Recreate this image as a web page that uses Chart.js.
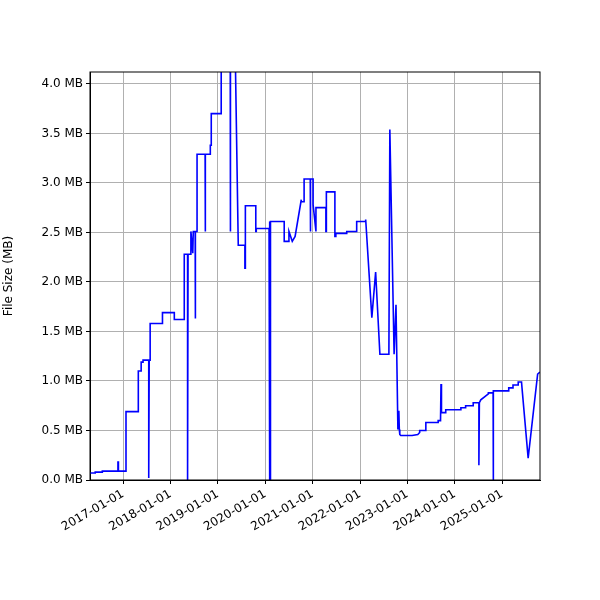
<!DOCTYPE html>
<html>
<head>
<script src="https://cdn.jsdelivr.net/npm/chart.js@4"></script>
<style>body{margin:0;background:#fff}</style>
</head>
<body>
<div style="width:600px;height:600px"><canvas id="c"></canvas></div>
<script>
// decimal years and file sizes (MB)
const years = [2016.30,2016.41,2016.41,2016.56,2016.56,2016.89,2016.89,2016.90,2016.90,2017.06,2017.06,2017.32,2017.32,2017.38,2017.38,2017.42,2017.42,2017.54,2017.54,2017.55,2017.57,2017.57,2017.83,2017.83,2018.08,2018.08,2018.29,2018.29,2018.36,2018.36,2018.37,2018.43,2018.43,2018.47,2018.48,2018.52,2018.52,2018.53,2018.56,2018.56,2018.73,2018.73,2018.74,2018.84,2018.84,2018.86,2018.86,2019.07,2019.07,2019.26,2019.26,2019.27,2019.36,2019.43,2019.43,2019.57,2019.57,2019.58,2019.58,2019.80,2019.80,2019.81,2019.81,2020.08,2020.08,2020.10,2020.10,2020.11,2020.11,2020.40,2020.40,2020.50,2020.50,2020.57,2020.57,2020.63,2020.63,2020.76,2020.76,2020.79,2020.82,2020.82,2020.95,2020.95,2020.96,2021.01,2021.01,2021.07,2021.07,2021.08,2021.28,2021.28,2021.29,2021.29,2021.47,2021.47,2021.49,2021.49,2021.72,2021.72,2021.93,2021.93,2022.12,2022.12,2022.25,2022.25,2022.33,2022.33,2022.42,2022.61,2022.63,2022.72,2022.72,2022.76,2022.77,2022.80,2022.82,2022.83,2022.84,2022.86,2023.10,2023.22,2023.22,2023.26,2023.26,2023.39,2023.39,2023.65,2023.65,2023.70,2023.71,2023.72,2023.75,2023.81,2023.81,2024.13,2024.13,2024.23,2024.23,2024.39,2024.39,2024.51,2024.51,2024.52,2024.55,2024.55,2024.71,2024.71,2024.73,2024.81,2024.81,2024.82,2025.14,2025.14,2025.23,2025.23,2025.34,2025.34,2025.41,2025.42,2025.55,2025.55,2025.75,2025.75,2025.80];
const sizes = [0.07,0.07,0.08,0.08,0.09,0.09,0.18,0.18,0.09,0.09,0.69,0.69,1.10,1.10,1.19,1.19,1.21,1.21,0.02,1.21,1.21,1.58,1.58,1.69,1.69,1.62,1.62,2.28,2.28,0.0,2.28,2.28,2.51,2.29,2.51,2.51,1.63,2.51,2.51,3.29,3.29,2.51,3.29,3.29,3.38,3.38,3.70,3.70,4.50,4.50,2.51,4.50,4.50,2.37,2.37,2.37,2.14,2.14,2.77,2.77,2.51,2.51,2.54,2.54,2.61,2.61,0.0,0.0,2.61,2.61,2.41,2.41,2.51,2.41,2.41,2.46,2.46,2.83,2.81,2.81,2.81,3.04,3.04,2.51,3.04,3.04,2.78,2.51,2.75,2.75,2.75,2.51,2.51,2.91,2.91,2.46,2.46,2.49,2.49,2.51,2.51,2.61,2.61,2.63,1.64,1.64,2.10,2.10,1.27,1.27,3.54,1.27,1.27,1.77,1.77,0.51,0.70,0.51,0.46,0.45,0.45,0.46,0.46,0.48,0.50,0.50,0.58,0.58,0.60,0.60,0.97,0.68,0.68,0.68,0.71,0.71,0.73,0.73,0.75,0.75,0.78,0.78,0.15,0.78,0.81,0.81,0.87,0.88,0.88,0.88,0.0,0.90,0.90,0.93,0.93,0.96,0.96,0.99,0.99,0.93,0.22,0.22,1.07,1.07,1.09,1.11];
const yearTicks = [2017,2018,2019,2020,2021,2022,2023,2024,2025];

const points = years.map((x, i) => ({x: x, y: sizes[i]}));

const frame = {
  id: 'frame',
  afterDraw(chart) {
    const a = chart.chartArea, ctx = chart.ctx;
    ctx.save();
    ctx.strokeStyle = '#000';
    ctx.lineWidth = 1;
    ctx.strokeRect(a.left, a.top, a.right - a.left, a.bottom - a.top);
    ctx.restore();
  }
};

Chart.defaults.font.family = 'DejaVu Sans';
Chart.defaults.color = '#000';

new Chart(document.getElementById('c'), {
  type: 'line',
  data: {
    datasets: [{
      data: points,
      borderColor: '#0000ff',
      borderWidth: 1.6,
      pointRadius: 0,
      tension: 0,
      fill: false
    }]
  },
  options: {
    animation: false,
    responsive: true,
    maintainAspectRatio: false,
    layout: {padding: {top: 72, right: 60, left: 0, bottom: 0}},
    plugins: {legend: {display: false}, tooltip: {enabled: false}},
    scales: {
      x: {
        type: 'linear',
        min: 2016.30,
        max: 2025.80,
        afterBuildTicks: s => { s.ticks = yearTicks.map(v => ({value: v})); },
        afterFit: s => { s.height = 120; },
        ticks: {
          maxRotation: 30, minRotation: 30,
          font: {size: 12},
          callback: v => v + '-01-01'
        },
        grid: {color: '#b0b0b0', tickLength: 4, tickColor: '#000'},
        border: {color: '#000'}
      },
      y: {
        min: 0,
        max: 4.12,
        afterBuildTicks: s => { s.ticks = [0,0.5,1,1.5,2,2.5,3,3.5,4].map(v => ({value: v})); },
        afterFit: s => { s.width = 90; },
        ticks: {font: {size: 12}, callback: v => v.toFixed(1) + ' MB'},
        title: {display: true, text: 'File Size (MB)', font: {size: 12}, padding: 2},
        grid: {color: '#b0b0b0', tickLength: 4, tickColor: '#000'},
        border: {color: '#000'}
      }
    }
  },
  plugins: [frame]
});
</script>
</body>
</html>
